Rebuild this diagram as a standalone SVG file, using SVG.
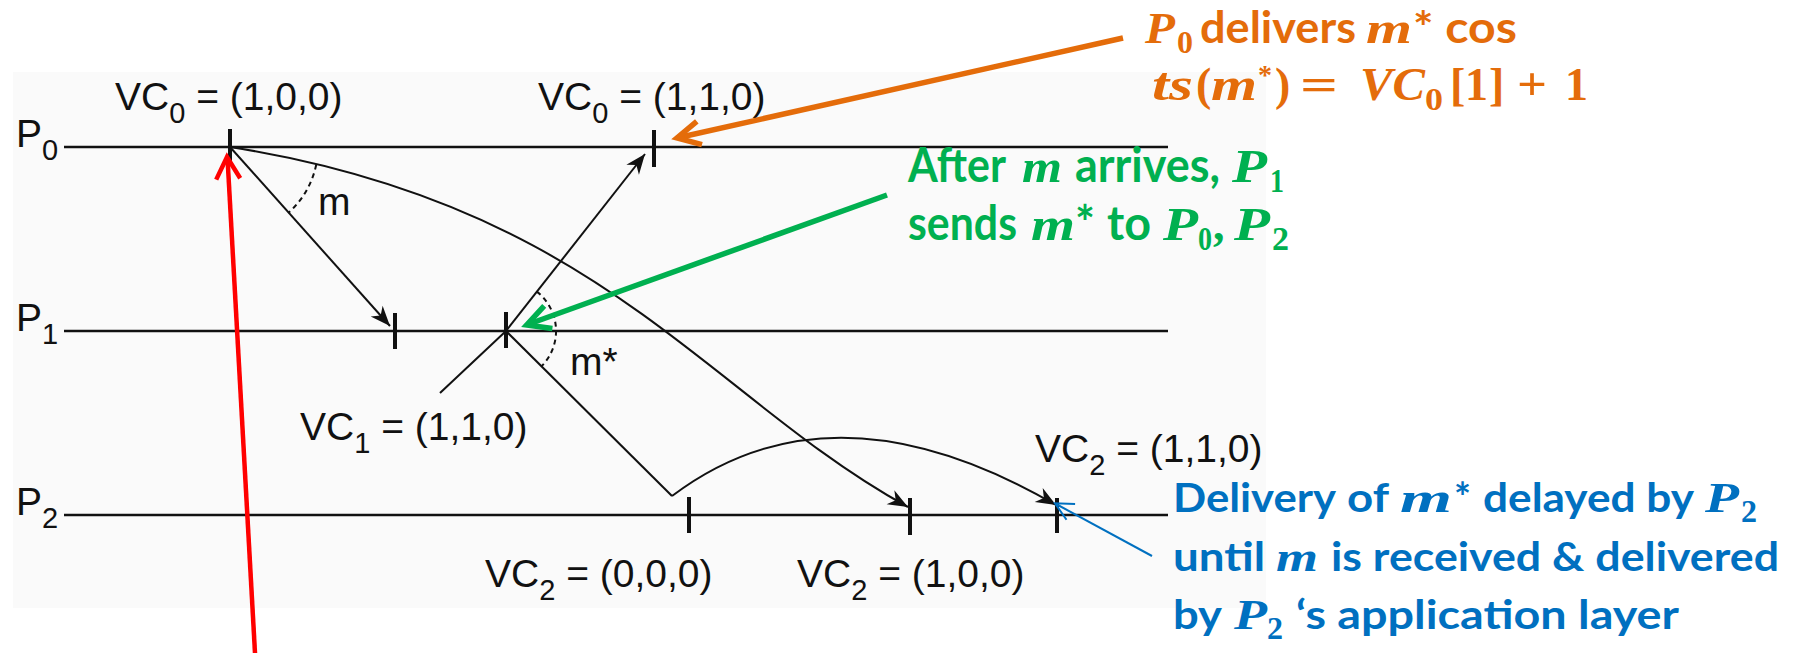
<svg xmlns="http://www.w3.org/2000/svg" width="1798" height="653" viewBox="0 0 1798 653">
<style>
.lbl{font-family:"Liberation Sans",Arial,sans-serif;font-size:39px;fill:#111}
.sub{font-size:29px}
.tl{stroke:#111;stroke-width:2.4;fill:none}
.tk{stroke:#111;stroke-width:4;fill:none}
.msg{stroke:#111;stroke-width:2;fill:none}
.dash{stroke:#111;stroke-width:2;fill:none;stroke-dasharray:5 4}
.cb{font-family:Lato,"Open Sans",sans-serif;font-weight:bold}
.mi{font-family:"Liberation Serif",serif;font-weight:bold;font-style:italic}
.mn{font-family:"Liberation Serif",serif;font-weight:bold}
.or{fill:#e46c0a}
.gr{fill:#00b050}
.bl{fill:#0070c0}
</style>
<defs>
<marker id="ah" markerUnits="userSpaceOnUse" viewBox="-22 -10 24 20" markerWidth="24" markerHeight="20" refX="0" refY="0" orient="auto">
<path d="M0,0 L-20,-8 L-14,0 L-20,8 Z" fill="#111"/>
</marker>
</defs>
<rect x="13" y="72" width="1253" height="536" fill="#fafafa"/>

<g id="P0">
<line class="tl" x1="64" y1="147" x2="1168" y2="147"/>
<text class="lbl" x="16" y="147">P<tspan class="sub" dy="13">0</tspan></text>
<line class="tk" x1="230" y1="129" x2="230" y2="166"/>
<line class="tk" x1="654" y1="130" x2="654" y2="167"/>
</g>
<g id="P1">
<line class="tl" x1="64" y1="331" x2="1168" y2="331"/>
<text class="lbl" x="16" y="331">P<tspan class="sub" dy="13">1</tspan></text>
<line class="tk" x1="395" y1="313" x2="395" y2="349"/>
<line class="tk" x1="506" y1="312" x2="506" y2="348"/>
</g>
<g id="P2">
<line class="tl" x1="64" y1="515" x2="1168" y2="515"/>
<text class="lbl" x="16" y="515">P<tspan class="sub" dy="13">2</tspan></text>
<line class="tk" x1="689" y1="497" x2="689" y2="533"/>
<line class="tk" x1="910" y1="498" x2="910" y2="535"/>
<line class="tk" x1="1057" y1="498" x2="1057" y2="533"/>
</g>

<g id="vc-labels">
<text id="vc0a" class="lbl" x="115" y="110">VC<tspan class="sub" dy="13">0</tspan><tspan dy="-13"> = (1,0,0)</tspan></text>
<text id="vc0b" class="lbl" x="538" y="110">VC<tspan class="sub" dy="13">0</tspan><tspan dy="-13"> = (1,1,0)</tspan></text>
<text id="vc1" class="lbl" x="300" y="440">VC<tspan class="sub" dy="13">1</tspan><tspan dy="-13"> = (1,1,0)</tspan></text>
<text id="vc2a" class="lbl" x="485" y="587">VC<tspan class="sub" dy="13">2</tspan><tspan dy="-13"> = (0,0,0)</tspan></text>
<text id="vc2b" class="lbl" x="797" y="587">VC<tspan class="sub" dy="13">2</tspan><tspan dy="-13"> = (1,0,0)</tspan></text>
<text id="vc2c" class="lbl" x="1035" y="462">VC<tspan class="sub" dy="13">2</tspan><tspan dy="-13"> = (1,1,0)</tspan></text>
<text id="lbl-m" class="lbl" x="318" y="215" font-size="41">m</text>
<text id="lbl-mstar" class="lbl" x="570" y="375" font-size="41">m*</text>
</g>

<g id="connectors">
<line class="msg" x1="230" y1="147" x2="390" y2="326" marker-end="url(#ah)"/>
<path class="msg" d="M230,147 C600,205 708,397 908,507" marker-end="url(#ah)"/>
<path class="dash" d="M316.2,164.7 A88,88 0 0 1 288.4,212.8"/>
<line class="msg" x1="506" y1="331" x2="645" y2="154" marker-end="url(#ah)"/>
<polyline class="msg" points="506,331 672,496"/>
<path class="msg" d="M672,496 Q832,375 1056,505" marker-end="url(#ah)"/>
<path class="dash" d="M536.8,291.6 A50,50 0 0 1 541.4,366.4"/>
<line class="msg" x1="440" y1="393" x2="506" y2="331"/>
</g>

<g id="annotation-arrows" fill="none" stroke-linejoin="miter">
<g id="red-arrow" stroke="#ff0000" stroke-width="4.5">
<line x1="255" y1="653" x2="227.5" y2="158"/>
<polyline points="216.2,179.6 227,157 240.2,178.3"/>
</g>
<g id="orange-arrow" stroke="#e46c0a" stroke-width="5.5">
<line x1="1123" y1="38" x2="679" y2="137.5"/>
<polyline points="696.8,121.3 677,138 702,144.7"/>
</g>
<g id="green-arrow" stroke="#00b050" stroke-width="5.5">
<line x1="887" y1="195" x2="529" y2="324"/>
<polyline points="544.2,305.9 526.7,325 552.4,328.5"/>
</g>
<g id="blue-arrow" stroke="#0070c0" stroke-width="2">
<line x1="1152" y1="556" x2="1056" y2="504"/>
<polyline points="1075.1,504 1055,503.3 1066.5,519.8"/>
</g>
</g>

<g id="note-orange" class="or">
<text class="mi" x="1145" y="43" font-size="44" textLength="30" lengthAdjust="spacingAndGlyphs">P</text>
<text class="mn" x="1177" y="53" font-size="32" textLength="16" lengthAdjust="spacingAndGlyphs">0</text>
<text class="cb" x="1200" y="43" font-size="44" textLength="156" lengthAdjust="spacingAndGlyphs">delivers</text>
<text class="mi" x="1366" y="43" font-size="44" textLength="46" lengthAdjust="spacingAndGlyphs">m</text>
<text class="cb" x="1413" y="43" font-size="44" textLength="104" lengthAdjust="spacingAndGlyphs">* cos</text>
<text class="mi" x="1152" y="100" font-size="46" textLength="41" lengthAdjust="spacingAndGlyphs">ts</text>
<text class="mn" x="1196" y="100" font-size="46">(</text>
<text class="mi" x="1211" y="100" font-size="46" textLength="46" lengthAdjust="spacingAndGlyphs">m</text>
<text class="mn" x="1258" y="84" font-size="28">*</text>
<text class="mn" x="1275" y="100" font-size="46">)</text>
<text class="mn" x="1300" y="100" font-size="46" textLength="38" lengthAdjust="spacingAndGlyphs">=</text>
<text class="mi" x="1360" y="100" font-size="46" textLength="65" lengthAdjust="spacingAndGlyphs">VC</text>
<text class="mn" x="1425" y="110" font-size="32" textLength="18" lengthAdjust="spacingAndGlyphs">0</text>
<text class="mn" x="1450" y="100" font-size="46">[</text>
<text class="mn" x="1465" y="100" font-size="46" textLength="23" lengthAdjust="spacingAndGlyphs">1</text>
<text class="mn" x="1489" y="100" font-size="46">]</text>
<text class="mn" x="1517" y="100" font-size="46" textLength="30" lengthAdjust="spacingAndGlyphs">+</text>
<text class="mn" x="1565" y="100" font-size="46" textLength="23" lengthAdjust="spacingAndGlyphs">1</text>
</g>

<g id="note-green" class="gr">
<text class="cb" x="908" y="182" font-size="47" textLength="98" lengthAdjust="spacingAndGlyphs">After</text>
<text class="mi" x="1022" y="182" font-size="46" textLength="40" lengthAdjust="spacingAndGlyphs">m</text>
<text class="cb" x="1075" y="182" font-size="47" textLength="145" lengthAdjust="spacingAndGlyphs">arrives,</text>
<text class="mi" x="1232" y="182" font-size="46" textLength="35" lengthAdjust="spacingAndGlyphs">P</text>
<text class="mn" x="1270" y="192" font-size="33" textLength="14" lengthAdjust="spacingAndGlyphs">1</text>
<text class="cb" x="908" y="240" font-size="47" textLength="109" lengthAdjust="spacingAndGlyphs">sends</text>
<text class="mi" x="1031" y="240" font-size="46" textLength="44" lengthAdjust="spacingAndGlyphs">m</text>
<text class="cb" x="1075" y="240" font-size="47">*</text>
<text class="cb" x="1107" y="240" font-size="47" textLength="44" lengthAdjust="spacingAndGlyphs">to</text>
<text class="mi" x="1163" y="240" font-size="46" textLength="35" lengthAdjust="spacingAndGlyphs">P</text>
<text class="mn" x="1198" y="250" font-size="33" textLength="14" lengthAdjust="spacingAndGlyphs">0</text>
<text class="mn" x="1213" y="240" font-size="46">,</text>
<text class="mi" x="1234" y="240" font-size="46" textLength="36" lengthAdjust="spacingAndGlyphs">P</text>
<text class="mn" x="1272" y="250" font-size="33" textLength="17" lengthAdjust="spacingAndGlyphs">2</text>
</g>

<g id="note-blue" class="bl">
<text class="cb" x="1173" y="512" font-size="40" textLength="163" lengthAdjust="spacingAndGlyphs">Delivery</text>
<text class="cb" x="1347" y="512" font-size="40" textLength="42" lengthAdjust="spacingAndGlyphs">of</text>
<text class="mi" x="1400" y="512" font-size="42" textLength="52" lengthAdjust="spacingAndGlyphs">m</text>
<text class="cb" x="1454" y="512" font-size="40">*</text>
<text class="cb" x="1483" y="512" font-size="40" textLength="211" lengthAdjust="spacingAndGlyphs">delayed by</text>
<text class="mi" x="1705" y="512" font-size="42" textLength="34" lengthAdjust="spacingAndGlyphs">P</text>
<text class="mn" x="1741" y="522" font-size="31" textLength="16" lengthAdjust="spacingAndGlyphs">2</text>
<text class="cb" x="1173" y="571" font-size="40" textLength="92" lengthAdjust="spacingAndGlyphs">until</text>
<text class="mi" x="1276" y="571" font-size="42" textLength="42" lengthAdjust="spacingAndGlyphs">m</text>
<text class="cb" x="1331" y="571" font-size="40" textLength="448" lengthAdjust="spacingAndGlyphs">is received &amp; delivered</text>
<text class="cb" x="1173" y="629" font-size="40" textLength="49" lengthAdjust="spacingAndGlyphs">by</text>
<text class="mi" x="1234" y="629" font-size="42" textLength="33" lengthAdjust="spacingAndGlyphs">P</text>
<text class="mn" x="1267" y="639" font-size="31" textLength="16" lengthAdjust="spacingAndGlyphs">2</text>
<text class="cb" x="1296" y="629" font-size="40" textLength="383" lengthAdjust="spacingAndGlyphs">‘s application layer</text>
</g>
</svg>
